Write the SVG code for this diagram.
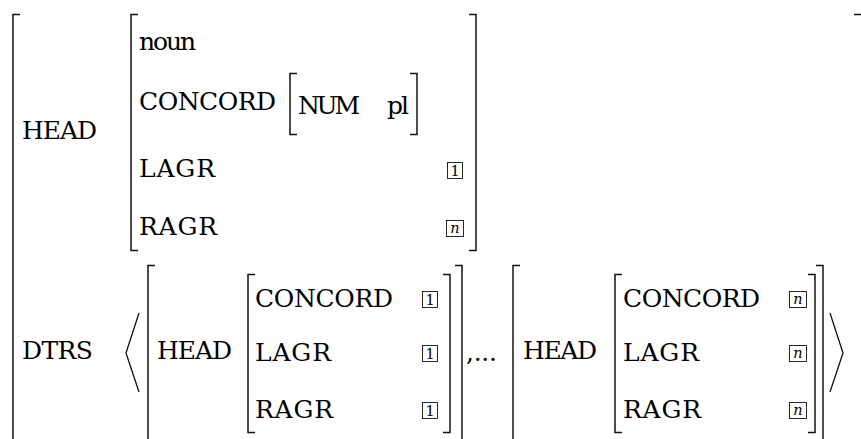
<svg xmlns="http://www.w3.org/2000/svg" width="861" height="439" viewBox="0 0 861 439">
<style>
text{font-family:"DejaVu Serif","Liberation Serif",serif;font-size:25px;fill:#000}
.br{fill:none;stroke:#111;stroke-width:1.5}
.ang{fill:none;stroke:#111;stroke-width:1.3}
.bx{fill:#fff;stroke:#111;stroke-width:0.9}
.tag{font-size:14.5px;text-anchor:middle}
.it{font-style:italic}
</style>
<rect width="861" height="439" fill="#fff"/>
<g id="brackets">
<path class="br" d="M20,14.5H13V445"/>
<path class="br" d="M854,14.5H863"/>
<path class="br" d="M138,14.5H131V250.5H138"/>
<path class="br" d="M469,14.5H476V250.5H469"/>
<path class="br" d="M297,73.5H290V134.5H297"/>
<path class="br" d="M410,73.5H417V134.5H410"/>
<path class="br" d="M155,265.5H148V445"/>
<path class="br" d="M255,274.5H248V432.5H255"/>
<path class="br" d="M443,274.5H450V432.5H443"/>
<path class="br" d="M455,265.5H462V445"/>
<path class="br" d="M520,265.5H513V445"/>
<path class="br" d="M622,274.5H615V432.5H622"/>
<path class="br" d="M808,274.5H815V432.5H808"/>
<path class="br" d="M816,265.5H823V445"/>
<polyline class="ang" points="139,313 126,353 139,392"/>
<polyline class="ang" points="830,313 843,353 830,392"/>
</g>
<g id="top">
<text x="22" y="139" textLength="75">HEAD</text>
<g id="head-value">
<text x="139" y="50" textLength="57">noun</text>
<text x="139" y="110" textLength="137">CONCORD</text>
<g id="num">
<text x="298" y="114" textLength="62">NUM</text>
<text x="387" y="114" textLength="22">pl</text>
</g>
<text x="139" y="177" textLength="76">LAGR</text>
<rect class="bx" x="447.5" y="162.5" width="15" height="16"/>
<text class="tag" x="455" y="176">1</text>
<text x="139" y="235" textLength="78">RAGR</text>
<rect class="bx" x="446.5" y="220.5" width="17" height="16"/>
<text class="tag it" x="455" y="233">n</text>
</g>
</g>
<g id="dtrs">
<text x="22" y="359" textLength="71">DTRS</text>
<g id="dtr1">
<text x="157" y="359" textLength="75">HEAD</text>
<text x="255" y="307" textLength="138">CONCORD</text>
<rect class="bx" x="422.5" y="291.5" width="15" height="16"/>
<text class="tag" x="430" y="305">1</text>
<text x="255" y="361" textLength="76">LAGR</text>
<rect class="bx" x="422.5" y="345.5" width="15" height="16"/>
<text class="tag" x="430" y="359">1</text>
<text x="255" y="418" textLength="78">RAGR</text>
<rect class="bx" x="422.5" y="402.5" width="15" height="16"/>
<text class="tag" x="430" y="416">1</text>
</g>
<text id="ellipsis" x="466" y="361" textLength="31">,...</text>
<g id="dtrn">
<text x="523" y="359" textLength="74">HEAD</text>
<text x="623" y="307" textLength="137">CONCORD</text>
<rect class="bx" x="789.5" y="291.5" width="17" height="16"/>
<text class="tag it" x="798" y="304">n</text>
<text x="623" y="361" textLength="76">LAGR</text>
<rect class="bx" x="789.5" y="345.5" width="17" height="16"/>
<text class="tag it" x="798" y="358">n</text>
<text x="623" y="418" textLength="78">RAGR</text>
<rect class="bx" x="789.5" y="402.5" width="17" height="16"/>
<text class="tag it" x="798" y="415">n</text>
</g>
</g>
</svg>
